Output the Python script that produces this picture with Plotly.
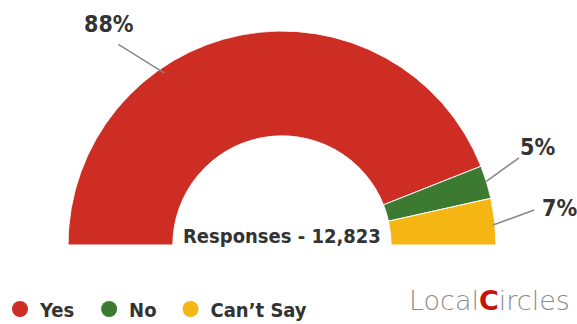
import math
import plotly.graph_objects as go

# ---- data ----
categories = ["Yes", "No", "Can\u2019t Say"]
values = [88, 5, 7]
label_text = ["88%", "5%", "7%"]
colors = ["#CD2D23", "#3B7A30", "#F5B513"]
responses_text = "Responses - 12,823"

# label placement (angle in degrees along the half ring, radius as fraction of outer radius)
label_line_theta_in = [55.6, 162.7, 174.6]
label_line_theta_out = [50.8, 159.8, 172.1]
label_line_r_in = [0.975, 1.0, 0.99]
label_line_r_out = [1.21, 1.18, 1.19]
label_theta = [51.9, 159.0, 172.4]
label_r = [1.31, 1.28, 1.31]

W, H = 577, 324
CX, CY, R = 282, 245, 214
HOLE = 0.51
FONT = "DejaVu Sans Condensed, sans-serif"
TXT = "#333333"


def to_paper(theta_deg, frac):
    a = math.radians(theta_deg)
    x = CX - R * frac * math.cos(a)
    y = CY - R * frac * math.sin(a)
    return x / W, 1 - y / H


total = sum(values)
spans = [v / total * 180 for v in values]
starts = [sum(spans[:i]) for i in range(len(spans))]
centers = [s + w / 2 for s, w in zip(starts, spans)]

fig = go.Figure()
for i, cat in enumerate(categories):
    fig.add_trace(go.Barpolar(
        r=[1], base=[0], theta=[centers[i]], width=[spans[i]],
        marker=dict(color=colors[i], line=dict(color="white", width=1)),
        name=cat, showlegend=False, hoverinfo="skip",
    ))

# legend entries (circles)
for i, cat in enumerate(categories):
    fig.add_trace(go.Scatterpolar(
        r=[None], theta=[None], mode="markers",
        marker=dict(color=colors[i], size=20, symbol="circle"),
        name=cat + "\u2002", showlegend=True,
    ))

shapes = []
annotations = []
for i in range(len(values)):
    x0, y0 = to_paper(label_line_theta_in[i], label_line_r_in[i])
    x1, y1 = to_paper(label_line_theta_out[i], label_line_r_out[i])
    shapes.append(dict(type="line", xref="paper", yref="paper", x0=x0, y0=y0, x1=x1, y1=y1,
                       line=dict(color="#8a8a8a", width=1.6)))
    tx, ty = to_paper(label_theta[i], label_r[i])
    annotations.append(dict(text=label_text[i], x=tx, y=ty, xref="paper", yref="paper",
                            xanchor="center", yanchor="middle", showarrow=False,
                            font=dict(family=FONT, size=23, color=TXT, weight="bold")))

annotations.append(dict(text=responses_text, x=CX / W, y=1 - 236 / H, xref="paper", yref="paper",
                        xanchor="center", yanchor="middle", showarrow=False,
                        font=dict(family=FONT, size=20, color=TXT, weight="bold")))
annotations.append(dict(
    text="<span style='color:#8c8c8c'>Local</span><b><span style='color:#C8120C'>C</span></b><span style='color:#8c8c8c'>ircles</span>",
    x=489 / W, y=1 - 300 / H, xref="paper", yref="paper",
    xanchor="center", yanchor="middle", showarrow=False,
    font=dict(family="DejaVu Sans, sans-serif", size=27, weight=200)))

fig.update_layout(
    width=W, height=H,
    margin=dict(l=0, r=0, t=0, b=0, autoexpand=False),
    paper_bgcolor="white",
    polar=dict(
        domain=dict(x=[40 / W, 524 / W], y=[1 - 245 / H, 1 - 31 / H]),
        sector=[0, 180],
        hole=HOLE,
        bgcolor="white",
        angularaxis=dict(rotation=180, direction="clockwise", visible=False,
                         showgrid=False, showline=False, showticklabels=False),
        radialaxis=dict(range=[0, 1], visible=False, showgrid=False),
    ),
    bargap=0,
    legend=dict(orientation="h", x=0, xanchor="left", y=1 - 309 / H, yanchor="middle",
                font=dict(family=FONT, size=20, color=TXT, weight="bold"),
                itemsizing="trace", bgcolor="rgba(0,0,0,0)", itemwidth=30),
    shapes=shapes,
    annotations=annotations,
)

fig.write_html("out.html", config={"displayModeBar": False},
               post_script="document.body.style.margin='0';")
